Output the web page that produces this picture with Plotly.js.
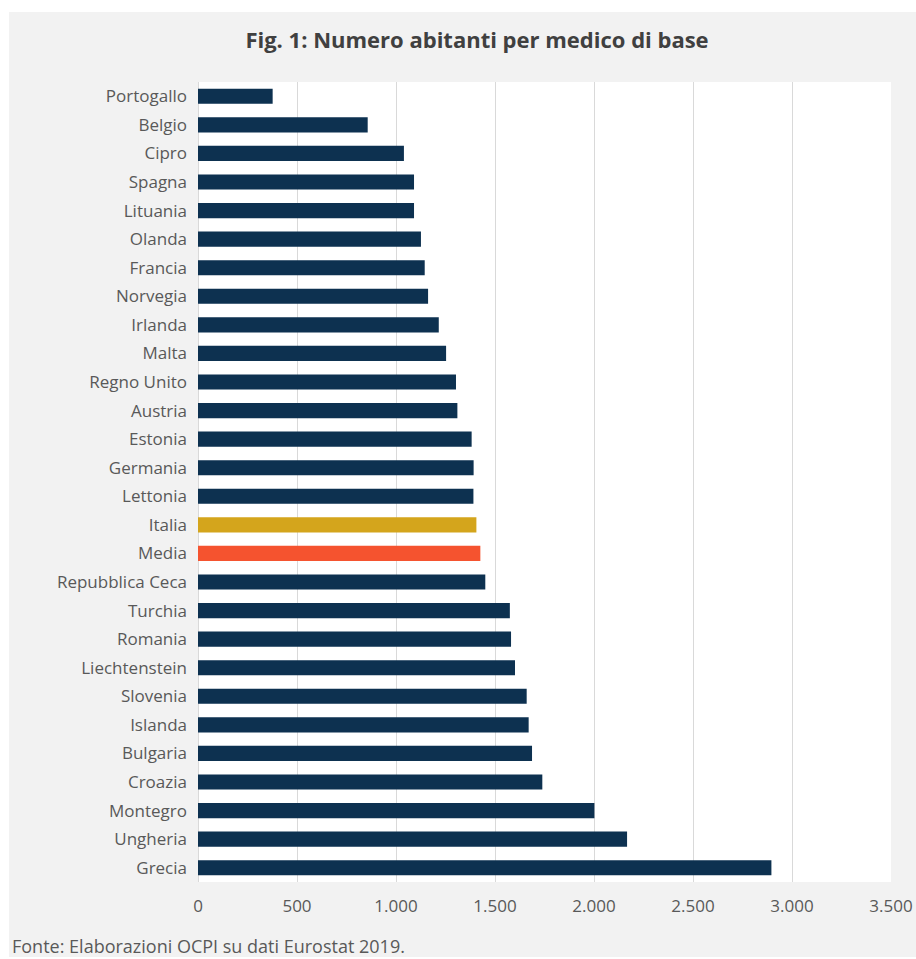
<!DOCTYPE html>
<html>
<head>
<meta charset="utf-8">
<script src="https://cdn.plot.ly/plotly-3.0.1.min.js"></script>
<style>
html, body { margin: 0; padding: 0; background: #ffffff; }
#chart { position: absolute; left: 9px; top: 12px; width: 907px; height: 945px; }
</style>
</head>
<body>
<div id="chart"></div>
<script>
const categories = ["Portogallo","Belgio","Cipro","Spagna","Lituania","Olanda","Francia","Norvegia","Irlanda","Malta","Regno Unito","Austria","Estonia","Germania","Lettonia","Italia","Media","Repubblica Ceca","Turchia","Romania","Liechtenstein","Slovenia","Islanda","Bulgaria","Croazia","Montegro","Ungheria","Grecia"];
const values = [377, 857, 1040, 1091, 1091, 1126, 1145, 1162, 1216, 1253, 1303, 1310, 1382, 1392, 1391, 1406, 1426, 1451, 1575, 1581, 1601, 1660, 1670, 1687, 1739, 2002, 2167, 2896];
const tickValues = [0, 500, 1000, 1500, 2000, 2500, 3000, 3500];
const titleText = "Fig. 1: Numero abitanti per medico di base";
const sourceText = "Fonte: Elaborazioni OCPI su dati Eurostat 2019.";

const colorFor = c => c === "Italia" ? "#d4a51c" : (c === "Media" ? "#f5532f" : "#0d3150");
const barColors = categories.map(colorFor);

const font = "'Open Sans', 'Noto Sans', sans-serif";

Plotly.newPlot("chart", [{
  type: "bar",
  orientation: "h",
  y: categories,
  x: values,
  marker: { color: barColors, line: { width: 0 } },
  hoverinfo: "x+y"
}], {
  width: 907,
  height: 945,
  paper_bgcolor: "#f2f2f2",
  plot_bgcolor: "#ffffff",
  margin: { l: 189, r: 25, t: 70, b: 75 },
  separators: ",.",
  bargap: 0.47,
  showlegend: false,
  font: { family: font, size: 17, color: "#595959" },
  title: {
    text: titleText,
    xref: "container", x: 0.516, xanchor: "center",
    yref: "container", y: 0.970, yanchor: "middle",
    font: { family: font, size: 22, color: "#404040", weight: "bold" }
  },
  xaxis: {
    range: [0, 3500],
    tickvals: tickValues,
    tickformat: ",d",
    showgrid: true,
    gridcolor: "#d9d9d9",
    gridwidth: 1,
    zeroline: true,
    zerolinecolor: "#d9d9d9",
    zerolinewidth: 1,
    showline: false,
    ticks: "",
    ticklabelstandoff: 12,
    tickfont: { family: font, size: 17, color: "#595959" },
    fixedrange: true
  },
  yaxis: {
    type: "category",
    autorange: "reversed",
    showgrid: false,
    zeroline: false,
    showline: false,
    ticks: "",
    ticklabelstandoff: 10,
    tickfont: { family: font, size: 17, color: "#595959" },
    fixedrange: true
  },
  annotations: [{
    text: sourceText,
    xref: "paper", yref: "paper",
    x: -0.2713, y: -0.08,
    xanchor: "left", yanchor: "middle",
    showarrow: false,
    font: { family: font, size: 18, color: "#595959" }
  }]
}, { displayModeBar: false, staticPlot: true });
</script>
</body>
</html>
